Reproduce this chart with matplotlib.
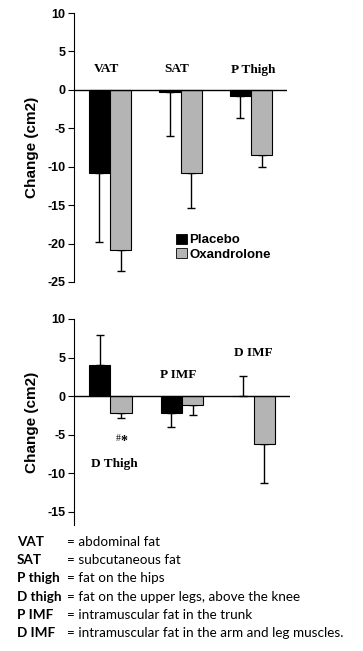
import matplotlib
matplotlib.use("Agg")
import matplotlib.pyplot as plt
from matplotlib.patches import Patch

# top panel
top_cats = ["VAT", "SAT", "P Thigh"]
top_placebo = [-10.8, -0.3, -0.8]
top_placebo_err = [9.0, 5.7, 2.8]
top_oxa = [-20.8, -10.8, -8.5]
top_oxa_err = [2.8, 4.6, 1.5]

# bottom panel
bot_cats = ["D Thigh", "P IMF", "D IMF"]
bot_placebo = [4.0, -2.2, 0.0]
bot_placebo_err = [3.9, 1.8, 2.6]
bot_oxa = [-2.2, -1.1, -6.2]
bot_oxa_err = [0.6, 1.3, 5.1]

legend_rows = [
    ("VAT", "= abdominal fat"),
    ("SAT", "= subcutaneous fat"),
    ("P thigh", "= fat on the hips"),
    ("D thigh", "= fat on the upper legs, above the knee"),
    ("P IMF", "= intramuscular fat in the trunk"),
    ("D IMF", "= intramuscular fat in the arm and leg muscles."),
]

W, H = 363, 651
fig = plt.figure(figsize=(W / 100, H / 100), dpi=100)
gray = "#b4b4b4"
bw = 0.30


def px(x0, y0, x1, y1):
    # pixel box -> figure fraction
    return [x0 / W, 1 - y1 / H, (x1 - x0) / W, (y1 - y0) / H]


def one_side(vals, errs):
    lo, hi = [], []
    for v, e in zip(vals, errs):
        if v >= 0:
            lo.append(0)
            hi.append(e)
        else:
            lo.append(e)
            hi.append(0)
    return [lo, hi]


def draw_panel(ax, plac, plac_err, oxa, oxa_err, ylim, yticks):
    xs = list(range(len(plac)))
    xp = [x - bw / 2 for x in xs]
    xo = [x + bw / 2 for x in xs]
    ax.bar(xp, plac, bw, color="black", edgecolor="black", linewidth=0.8, zorder=2)
    ax.bar(xo, oxa, bw, color=gray, edgecolor="black", linewidth=0.8, zorder=2)
    ax.errorbar(xp, plac, yerr=one_side(plac, plac_err), fmt="none", ecolor="black",
                elinewidth=1, capsize=3, capthick=1, zorder=1)
    ax.errorbar(xo, oxa, yerr=one_side(oxa, oxa_err), fmt="none", ecolor="black",
                elinewidth=1, capsize=3, capthick=1, zorder=1)
    ax.axhline(0, color="black", linewidth=1, zorder=3)
    ax.set_xlim(-0.51, 2.51)
    ax.set_ylim(*ylim)
    ax.set_yticks(yticks)
    ax.set_yticklabels([str(t) for t in yticks], fontsize=9, fontweight="bold",
                       family="Liberation Sans")
    ax.set_xticks([])
    for s in ["top", "right", "bottom"]:
        ax.spines[s].set_visible(False)
    ax.spines["left"].set_linewidth(0.8)
    ax.tick_params(axis="y", length=4, width=0.8, pad=2)
    ax.set_ylabel("Change (cm2)", fontsize=11, fontweight="bold",
                  family="Liberation Sans", labelpad=6)


ax1 = fig.add_axes(px(74, 13, 287, 282))
draw_panel(ax1, top_placebo, top_placebo_err, top_oxa, top_oxa_err,
           (-25, 10), [10, 5, 0, -5, -10, -15, -20, -25])
serif = dict(family="Liberation Serif", fontweight="bold", fontsize=9.5,
             ha="center", va="center")
ax1.text(-0.05, 2.7, top_cats[0], **serif)
ax1.text(0.95, 2.7, top_cats[1], **serif)
ax1.text(2.03, 2.6, top_cats[2], **serif)
handles = [Patch(facecolor="black", edgecolor="black", linewidth=0.6),
           Patch(facecolor=gray, edgecolor="black", linewidth=0.6)]
ax1.legend(handles, ["Placebo", "Oxandrolone"], loc="upper left",
           bbox_to_anchor=(0.48, 0.18), frameon=False, borderpad=0,
           borderaxespad=0, handlelength=0.8, handleheight=0.8, handletextpad=0.2,
           labelspacing=0.15, prop=dict(family="Liberation Sans", weight="bold", size=9.5))

ax2 = fig.add_axes(px(74, 319, 290, 525))
draw_panel(ax2, bot_placebo, bot_placebo_err, bot_oxa, bot_oxa_err,
           (-16.7, 10), [10, 5, 0, -5, -10, -15])
ax2.text(0.05, -8.8, bot_cats[0], **serif)
ax2.text(0.11, -5.5, "#", family="Liberation Serif", fontsize=7, ha="center", va="center")
ax2.text(0.19, -5.9, "*", family="Liberation Serif", fontsize=10, fontweight="bold",
         ha="center", va="center")
ax2.text(0.95, 2.8, bot_cats[1], **serif)
ax2.text(2.0, 5.6, bot_cats[2], **serif)

y = 542
for abbr, desc in legend_rows:
    fig.text(17 / W, 1 - y / H, abbr, fontsize=9.7, fontweight="bold", family="Lato",
             va="center", ha="left")
    fig.text(67 / W, 1 - y / H, desc, fontsize=9.7, family="Lato", va="center", ha="left")
    y += 18.2

fig.savefig("out.png", dpi=100)
